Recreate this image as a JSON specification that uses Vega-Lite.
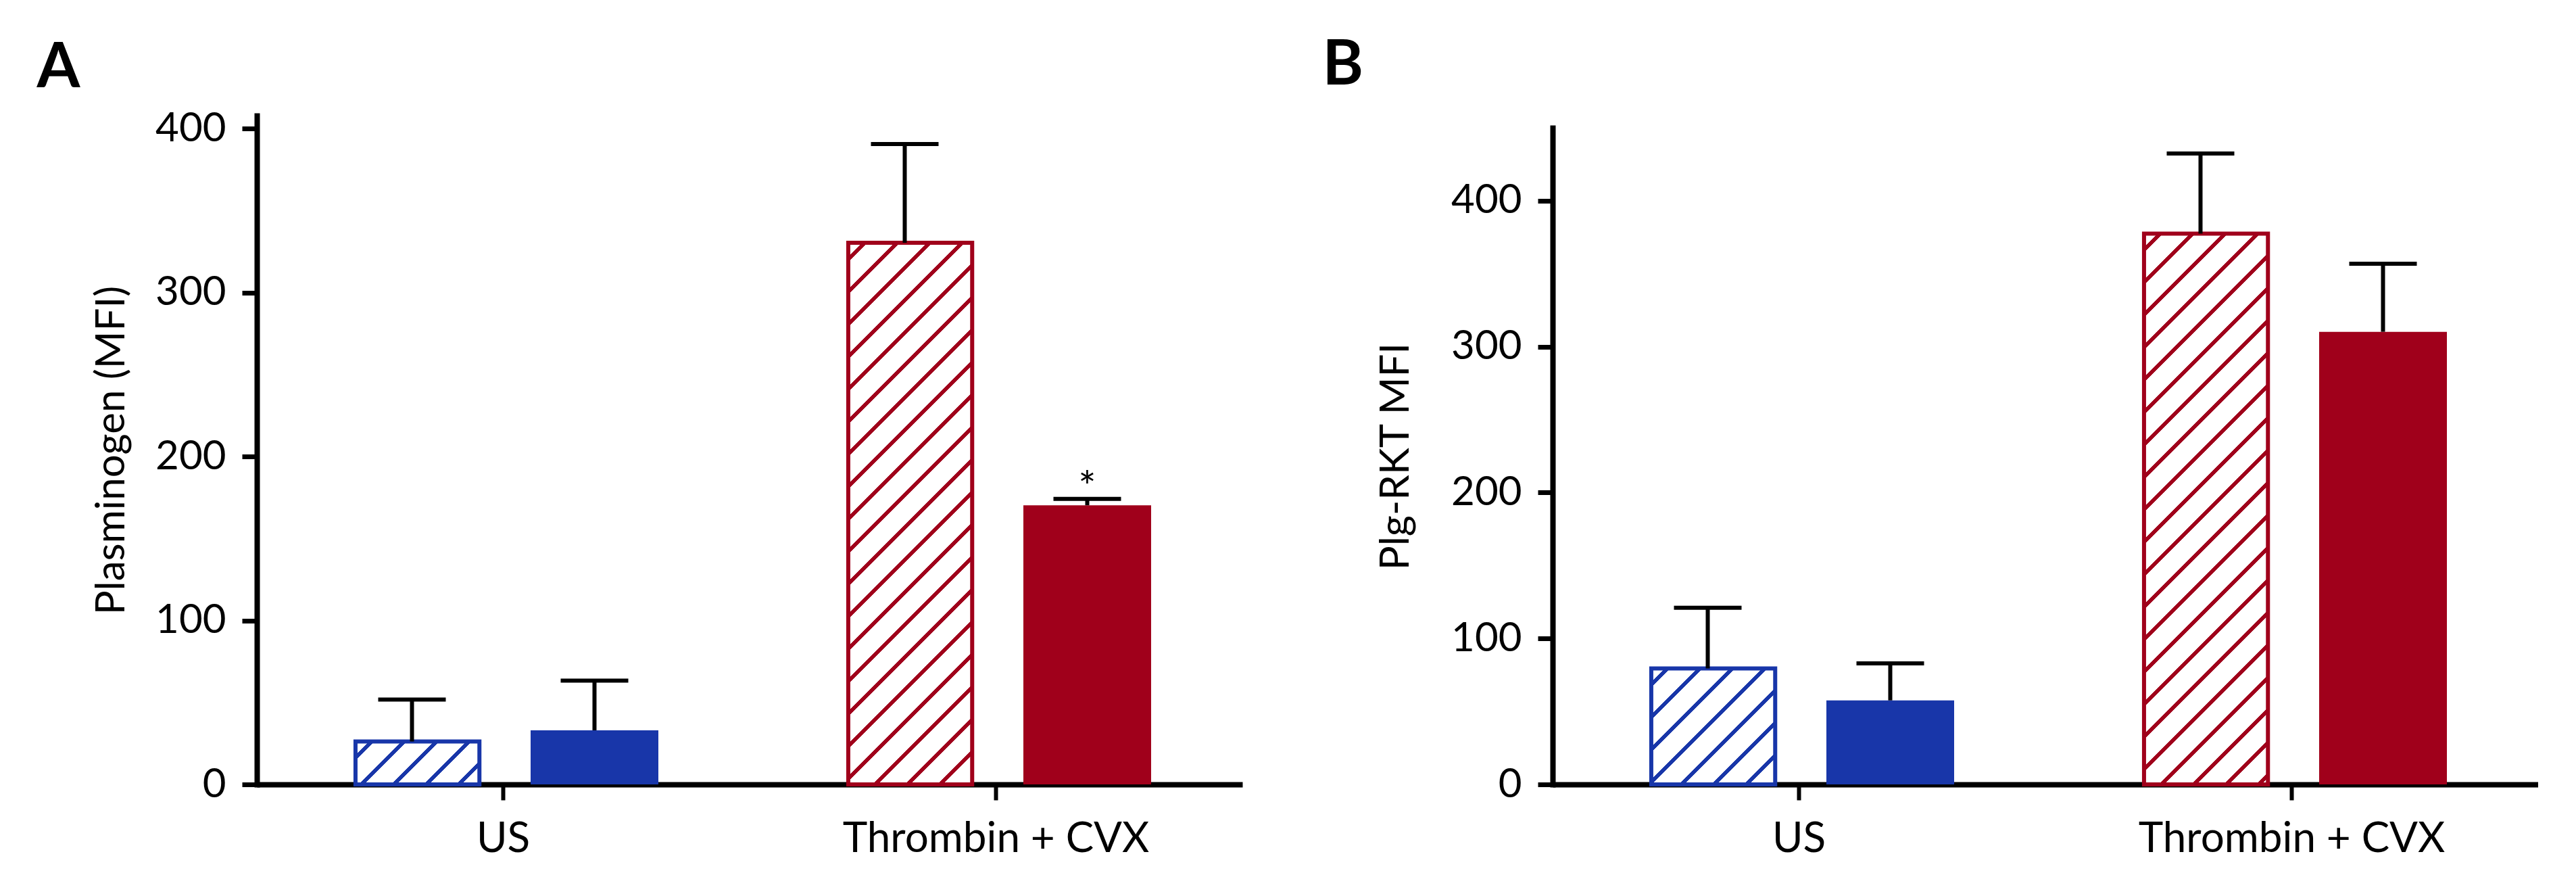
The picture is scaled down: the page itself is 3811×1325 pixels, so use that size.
{
  "$schema": "https://vega.github.io/schema/vega-lite/v6.json",
  "background": "white",
  "padding": {"left": 54, "top": 51, "right": 0, "bottom": 0},
  "spacing": 118,
  "datasets": {
    "A": [
      {"group": "US", "series": "a", "mean": 26.2, "upper": 51.8, "sig": ""},
      {"group": "US", "series": "b", "mean": 33, "upper": 63.3, "sig": ""},
      {"group": "Thrombin + CVX", "series": "a", "mean": 330.4, "upper": 390.7, "sig": ""},
      {"group": "Thrombin + CVX", "series": "b", "mean": 170.3, "upper": 174.2, "sig": "*"}
    ],
    "B": [
      {"group": "US", "series": "a", "mean": 79.5, "upper": 121.1, "sig": ""},
      {"group": "US", "series": "b", "mean": 57.6, "upper": 83, "sig": ""},
      {"group": "Thrombin + CVX", "series": "a", "mean": 377.5, "upper": 432.4, "sig": ""},
      {"group": "Thrombin + CVX", "series": "b", "mean": 310.2, "upper": 356.8, "sig": ""}
    ]
  },
  "config": {
    "view": {"stroke": null},
    "axis": {
      "domainColor": "#000000", "domainWidth": 8, "tickColor": "#000000",
      "labelColor": "#000000", "labelFont": "Lato", "labelLimit": 2000,
      "grid": false, "titleColor": "#000000",
      "titleFont": "Lato", "titleFontSize": 60, "titleFontWeight": "normal"
    },
    "axisY": {"tickSize": 22, "tickWidth": 7, "labelFontSize": 60, "labelPadding": 24, "domainCap": "square", "labelFlush": false, "labelOverlap": false},
    "axisX": {"tickSize": 23, "tickWidth": 6, "labelFontSize": 62, "labelPadding": 27, "labelAngle": 0},
    "title": {"fontSize": 92, "font": "Lato", "fontWeight": "bold", "color": "#000000", "anchor": "start", "frame": "bounds"}
  },
  "hconcat": [
    {
      "width": 1458,
      "height": 989,
      "title": {"text": "A", "dx": -81, "offset": 12},
      "data": {"name": "A"},
      "encoding": {
        "x": {"field": "group", "type": "nominal", "sort": ["US", "Thrombin + CVX"], "scale": {"paddingInner": 0, "paddingOuter": 0}, "axis": {"title": null}},
        "xOffset": {"field": "series", "type": "nominal", "sort": ["a", "b"], "scale": {"paddingInner": 0.3, "paddingOuter": 0.5}}
      },
      "layer": [
        {
          "transform": [{"filter": "datum.series === 'b'"}],
          "mark": {"type": "bar"},
          "encoding": {
            "y": {"field": "mean", "type": "quantitative", "stack": null, "scale": {"domain": [0, 408], "nice": false}, "axis": {"title": "Plasminogen (MFI)", "titlePadding": 33, "values": [0, 100, 200, 300, 400]}},
            "color": {"field": "group", "type": "nominal", "scale": {"domain": ["US", "Thrombin + CVX"], "range": ["#1836a9", "#a0001b"]}, "legend": null}
          }
        },
        {
          "transform": [{"filter": "datum.series === 'a' && datum.group === 'US'"}],
          "mark": {"type": "bar", "width": {"band": 0.97}, "stroke": "#1836a9", "strokeWidth": 6,
            "fill": {"gradient": "linear", "x1": 0, "y1": 0, "x2": 4.8702, "y2": 1.6871, "stops": [
              {"offset": 0, "color": "#ffffff"},
              {"offset": 0.02, "color": "#ffffff"}, {"offset": 0.02, "color": "#1836a9"}, {"offset": 0.028, "color": "#1836a9"}, {"offset": 0.028, "color": "#ffffff"},
              {"offset": 0.068, "color": "#ffffff"}, {"offset": 0.068, "color": "#1836a9"}, {"offset": 0.076, "color": "#1836a9"}, {"offset": 0.076, "color": "#ffffff"},
              {"offset": 0.116, "color": "#ffffff"}, {"offset": 0.116, "color": "#1836a9"}, {"offset": 0.124, "color": "#1836a9"}, {"offset": 0.124, "color": "#ffffff"},
              {"offset": 0.164, "color": "#ffffff"}, {"offset": 0.164, "color": "#1836a9"}, {"offset": 0.172, "color": "#1836a9"}, {"offset": 0.172, "color": "#ffffff"},
              {"offset": 0.212, "color": "#ffffff"}, {"offset": 0.212, "color": "#1836a9"}, {"offset": 0.22, "color": "#1836a9"}, {"offset": 0.22, "color": "#ffffff"},
              {"offset": 0.26, "color": "#ffffff"}, {"offset": 0.26, "color": "#1836a9"}, {"offset": 0.268, "color": "#1836a9"}, {"offset": 0.268, "color": "#ffffff"},
              {"offset": 1, "color": "#ffffff"}
            ]}},
          "encoding": {"y": {"field": "mean", "type": "quantitative", "stack": null, "axis": {"title": "Plasminogen (MFI)", "titlePadding": 33, "values": [0, 100, 200, 300, 400]}}}
        },
        {
          "transform": [{"filter": "datum.series === 'a' && datum.group === 'Thrombin + CVX'"}],
          "mark": {"type": "bar", "width": {"band": 0.97}, "stroke": "#a0001b", "strokeWidth": 6,
            "fill": {"gradient": "linear", "x1": 0, "y1": 0, "x2": 0.27158, "y2": 1.18643, "stops": [
              {"offset": 0, "color": "#ffffff"},
              {"offset": 0.02, "color": "#ffffff"}, {"offset": 0.02, "color": "#a0001b"}, {"offset": 0.028, "color": "#a0001b"}, {"offset": 0.028, "color": "#ffffff"},
              {"offset": 0.068, "color": "#ffffff"}, {"offset": 0.068, "color": "#a0001b"}, {"offset": 0.076, "color": "#a0001b"}, {"offset": 0.076, "color": "#ffffff"},
              {"offset": 0.116, "color": "#ffffff"}, {"offset": 0.116, "color": "#a0001b"}, {"offset": 0.124, "color": "#a0001b"}, {"offset": 0.124, "color": "#ffffff"},
              {"offset": 0.164, "color": "#ffffff"}, {"offset": 0.164, "color": "#a0001b"}, {"offset": 0.172, "color": "#a0001b"}, {"offset": 0.172, "color": "#ffffff"},
              {"offset": 0.212, "color": "#ffffff"}, {"offset": 0.212, "color": "#a0001b"}, {"offset": 0.22, "color": "#a0001b"}, {"offset": 0.22, "color": "#ffffff"},
              {"offset": 0.26, "color": "#ffffff"}, {"offset": 0.26, "color": "#a0001b"}, {"offset": 0.268, "color": "#a0001b"}, {"offset": 0.268, "color": "#ffffff"},
              {"offset": 0.308, "color": "#ffffff"}, {"offset": 0.308, "color": "#a0001b"}, {"offset": 0.316, "color": "#a0001b"}, {"offset": 0.316, "color": "#ffffff"},
              {"offset": 0.356, "color": "#ffffff"}, {"offset": 0.356, "color": "#a0001b"}, {"offset": 0.364, "color": "#a0001b"}, {"offset": 0.364, "color": "#ffffff"},
              {"offset": 0.404, "color": "#ffffff"}, {"offset": 0.404, "color": "#a0001b"}, {"offset": 0.412, "color": "#a0001b"}, {"offset": 0.412, "color": "#ffffff"},
              {"offset": 0.452, "color": "#ffffff"}, {"offset": 0.452, "color": "#a0001b"}, {"offset": 0.46, "color": "#a0001b"}, {"offset": 0.46, "color": "#ffffff"},
              {"offset": 0.5, "color": "#ffffff"}, {"offset": 0.5, "color": "#a0001b"}, {"offset": 0.508, "color": "#a0001b"}, {"offset": 0.508, "color": "#ffffff"},
              {"offset": 0.548, "color": "#ffffff"}, {"offset": 0.548, "color": "#a0001b"}, {"offset": 0.556, "color": "#a0001b"}, {"offset": 0.556, "color": "#ffffff"},
              {"offset": 0.596, "color": "#ffffff"}, {"offset": 0.596, "color": "#a0001b"}, {"offset": 0.604, "color": "#a0001b"}, {"offset": 0.604, "color": "#ffffff"},
              {"offset": 0.644, "color": "#ffffff"}, {"offset": 0.644, "color": "#a0001b"}, {"offset": 0.652, "color": "#a0001b"}, {"offset": 0.652, "color": "#ffffff"},
              {"offset": 0.692, "color": "#ffffff"}, {"offset": 0.692, "color": "#a0001b"}, {"offset": 0.7, "color": "#a0001b"}, {"offset": 0.7, "color": "#ffffff"},
              {"offset": 0.74, "color": "#ffffff"}, {"offset": 0.74, "color": "#a0001b"}, {"offset": 0.748, "color": "#a0001b"}, {"offset": 0.748, "color": "#ffffff"},
              {"offset": 0.788, "color": "#ffffff"}, {"offset": 0.788, "color": "#a0001b"}, {"offset": 0.796, "color": "#a0001b"}, {"offset": 0.796, "color": "#ffffff"},
              {"offset": 0.836, "color": "#ffffff"}, {"offset": 0.836, "color": "#a0001b"}, {"offset": 0.844, "color": "#a0001b"}, {"offset": 0.844, "color": "#ffffff"},
              {"offset": 0.884, "color": "#ffffff"}, {"offset": 0.884, "color": "#a0001b"}, {"offset": 0.892, "color": "#a0001b"}, {"offset": 0.892, "color": "#ffffff"},
              {"offset": 0.932, "color": "#ffffff"}, {"offset": 0.932, "color": "#a0001b"}, {"offset": 0.94, "color": "#a0001b"}, {"offset": 0.94, "color": "#ffffff"},
              {"offset": 0.98, "color": "#ffffff"}, {"offset": 0.98, "color": "#a0001b"}, {"offset": 0.988, "color": "#a0001b"}, {"offset": 0.988, "color": "#ffffff"},
              {"offset": 1, "color": "#ffffff"}
            ]}},
          "encoding": {"y": {"field": "mean", "type": "quantitative", "stack": null, "axis": {"title": "Plasminogen (MFI)", "titlePadding": 33, "values": [0, 100, 200, 300, 400]}}}
        },
        {
          "mark": {"type": "rule", "strokeWidth": 6, "color": "#000000"},
          "encoding": {"y": {"field": "mean", "type": "quantitative", "axis": {"title": "Plasminogen (MFI)", "titlePadding": 33, "values": [0, 100, 200, 300, 400]}}, "y2": {"field": "upper"}}
        },
        {
          "mark": {"type": "tick", "orient": "horizontal", "size": 100, "thickness": 6, "color": "#000000", "opacity": 1},
          "encoding": {"y": {"field": "upper", "type": "quantitative", "axis": {"title": "Plasminogen (MFI)", "titlePadding": 33, "values": [0, 100, 200, 300, 400]}}}
        },
        {
          "transform": [{"filter": "datum.sig !== ''"}],
          "mark": {"type": "text", "font": "Lato", "fontSize": 62, "color": "#000000", "baseline": "alphabetic", "dy": 4},
          "encoding": {"y": {"field": "upper", "type": "quantitative", "axis": {"title": "Plasminogen (MFI)", "titlePadding": 33, "values": [0, 100, 200, 300, 400]}}, "text": {"field": "sig"}}
        }
      ]
    },
    {
      "width": 1458,
      "height": 989,
      "title": {"text": "B", "dx": -79, "offset": 27},
      "data": {"name": "B"},
      "encoding": {
        "x": {"field": "group", "type": "nominal", "sort": ["US", "Thrombin + CVX"], "scale": {"paddingInner": 0, "paddingOuter": 0}, "axis": {"title": null}},
        "xOffset": {"field": "series", "type": "nominal", "sort": ["a", "b"], "scale": {"paddingInner": 0.3, "paddingOuter": 0.5}}
      },
      "layer": [
        {
          "transform": [{"filter": "datum.series === 'b'"}],
          "mark": {"type": "bar"},
          "encoding": {
            "y": {"field": "mean", "type": "quantitative", "stack": null, "scale": {"domain": [0, 450], "range": [989, 18], "nice": false}, "axis": {"title": "Plg-RKT MFI", "titlePadding": 50, "values": [0, 100, 200, 300, 400]}},
            "color": {"field": "group", "type": "nominal", "scale": {"domain": ["US", "Thrombin + CVX"], "range": ["#1836a9", "#a0001b"]}, "legend": null}
          }
        },
        {
          "transform": [{"filter": "datum.series === 'a' && datum.group === 'US'"}],
          "mark": {"type": "bar", "width": {"band": 0.97}, "stroke": "#1836a9", "strokeWidth": 6,
            "fill": {"gradient": "linear", "x1": 0, "y1": 0, "x2": 2.9083, "y2": 2.7213, "stops": [
              {"offset": 0, "color": "#ffffff"},
              {"offset": 0.02, "color": "#ffffff"}, {"offset": 0.02, "color": "#1836a9"}, {"offset": 0.028, "color": "#1836a9"}, {"offset": 0.028, "color": "#ffffff"},
              {"offset": 0.068, "color": "#ffffff"}, {"offset": 0.068, "color": "#1836a9"}, {"offset": 0.076, "color": "#1836a9"}, {"offset": 0.076, "color": "#ffffff"},
              {"offset": 0.116, "color": "#ffffff"}, {"offset": 0.116, "color": "#1836a9"}, {"offset": 0.124, "color": "#1836a9"}, {"offset": 0.124, "color": "#ffffff"},
              {"offset": 0.164, "color": "#ffffff"}, {"offset": 0.164, "color": "#1836a9"}, {"offset": 0.172, "color": "#1836a9"}, {"offset": 0.172, "color": "#ffffff"},
              {"offset": 0.212, "color": "#ffffff"}, {"offset": 0.212, "color": "#1836a9"}, {"offset": 0.22, "color": "#1836a9"}, {"offset": 0.22, "color": "#ffffff"},
              {"offset": 0.26, "color": "#ffffff"}, {"offset": 0.26, "color": "#1836a9"}, {"offset": 0.268, "color": "#1836a9"}, {"offset": 0.268, "color": "#ffffff"},
              {"offset": 0.308, "color": "#ffffff"}, {"offset": 0.308, "color": "#1836a9"}, {"offset": 0.316, "color": "#1836a9"}, {"offset": 0.316, "color": "#ffffff"},
              {"offset": 0.356, "color": "#ffffff"}, {"offset": 0.356, "color": "#1836a9"}, {"offset": 0.364, "color": "#1836a9"}, {"offset": 0.364, "color": "#ffffff"},
              {"offset": 1, "color": "#ffffff"}
            ]}},
          "encoding": {"y": {"field": "mean", "type": "quantitative", "stack": null, "axis": {"title": "Plg-RKT MFI", "titlePadding": 50, "values": [0, 100, 200, 300, 400]}}}
        },
        {
          "transform": [{"filter": "datum.series === 'a' && datum.group === 'Thrombin + CVX'"}],
          "mark": {"type": "bar", "width": {"band": 0.97}, "stroke": "#a0001b", "strokeWidth": 6,
            "fill": {"gradient": "linear", "x1": 0, "y1": 0, "x2": 0.26298, "y2": 1.16847, "stops": [
              {"offset": 0, "color": "#ffffff"},
              {"offset": 0.02, "color": "#ffffff"}, {"offset": 0.02, "color": "#a0001b"}, {"offset": 0.028, "color": "#a0001b"}, {"offset": 0.028, "color": "#ffffff"},
              {"offset": 0.068, "color": "#ffffff"}, {"offset": 0.068, "color": "#a0001b"}, {"offset": 0.076, "color": "#a0001b"}, {"offset": 0.076, "color": "#ffffff"},
              {"offset": 0.116, "color": "#ffffff"}, {"offset": 0.116, "color": "#a0001b"}, {"offset": 0.124, "color": "#a0001b"}, {"offset": 0.124, "color": "#ffffff"},
              {"offset": 0.164, "color": "#ffffff"}, {"offset": 0.164, "color": "#a0001b"}, {"offset": 0.172, "color": "#a0001b"}, {"offset": 0.172, "color": "#ffffff"},
              {"offset": 0.212, "color": "#ffffff"}, {"offset": 0.212, "color": "#a0001b"}, {"offset": 0.22, "color": "#a0001b"}, {"offset": 0.22, "color": "#ffffff"},
              {"offset": 0.26, "color": "#ffffff"}, {"offset": 0.26, "color": "#a0001b"}, {"offset": 0.268, "color": "#a0001b"}, {"offset": 0.268, "color": "#ffffff"},
              {"offset": 0.308, "color": "#ffffff"}, {"offset": 0.308, "color": "#a0001b"}, {"offset": 0.316, "color": "#a0001b"}, {"offset": 0.316, "color": "#ffffff"},
              {"offset": 0.356, "color": "#ffffff"}, {"offset": 0.356, "color": "#a0001b"}, {"offset": 0.364, "color": "#a0001b"}, {"offset": 0.364, "color": "#ffffff"},
              {"offset": 0.404, "color": "#ffffff"}, {"offset": 0.404, "color": "#a0001b"}, {"offset": 0.412, "color": "#a0001b"}, {"offset": 0.412, "color": "#ffffff"},
              {"offset": 0.452, "color": "#ffffff"}, {"offset": 0.452, "color": "#a0001b"}, {"offset": 0.46, "color": "#a0001b"}, {"offset": 0.46, "color": "#ffffff"},
              {"offset": 0.5, "color": "#ffffff"}, {"offset": 0.5, "color": "#a0001b"}, {"offset": 0.508, "color": "#a0001b"}, {"offset": 0.508, "color": "#ffffff"},
              {"offset": 0.548, "color": "#ffffff"}, {"offset": 0.548, "color": "#a0001b"}, {"offset": 0.556, "color": "#a0001b"}, {"offset": 0.556, "color": "#ffffff"},
              {"offset": 0.596, "color": "#ffffff"}, {"offset": 0.596, "color": "#a0001b"}, {"offset": 0.604, "color": "#a0001b"}, {"offset": 0.604, "color": "#ffffff"},
              {"offset": 0.644, "color": "#ffffff"}, {"offset": 0.644, "color": "#a0001b"}, {"offset": 0.652, "color": "#a0001b"}, {"offset": 0.652, "color": "#ffffff"},
              {"offset": 0.692, "color": "#ffffff"}, {"offset": 0.692, "color": "#a0001b"}, {"offset": 0.7, "color": "#a0001b"}, {"offset": 0.7, "color": "#ffffff"},
              {"offset": 0.74, "color": "#ffffff"}, {"offset": 0.74, "color": "#a0001b"}, {"offset": 0.748, "color": "#a0001b"}, {"offset": 0.748, "color": "#ffffff"},
              {"offset": 0.788, "color": "#ffffff"}, {"offset": 0.788, "color": "#a0001b"}, {"offset": 0.796, "color": "#a0001b"}, {"offset": 0.796, "color": "#ffffff"},
              {"offset": 0.836, "color": "#ffffff"}, {"offset": 0.836, "color": "#a0001b"}, {"offset": 0.844, "color": "#a0001b"}, {"offset": 0.844, "color": "#ffffff"},
              {"offset": 0.884, "color": "#ffffff"}, {"offset": 0.884, "color": "#a0001b"}, {"offset": 0.892, "color": "#a0001b"}, {"offset": 0.892, "color": "#ffffff"},
              {"offset": 0.932, "color": "#ffffff"}, {"offset": 0.932, "color": "#a0001b"}, {"offset": 0.94, "color": "#a0001b"}, {"offset": 0.94, "color": "#ffffff"},
              {"offset": 0.98, "color": "#ffffff"}, {"offset": 0.98, "color": "#a0001b"}, {"offset": 0.988, "color": "#a0001b"}, {"offset": 0.988, "color": "#ffffff"},
              {"offset": 1, "color": "#ffffff"}
            ]}},
          "encoding": {"y": {"field": "mean", "type": "quantitative", "stack": null, "axis": {"title": "Plg-RKT MFI", "titlePadding": 50, "values": [0, 100, 200, 300, 400]}}}
        },
        {
          "mark": {"type": "rule", "strokeWidth": 6, "color": "#000000"},
          "encoding": {"y": {"field": "mean", "type": "quantitative", "axis": {"title": "Plg-RKT MFI", "titlePadding": 50, "values": [0, 100, 200, 300, 400]}}, "y2": {"field": "upper"}}
        },
        {
          "mark": {"type": "tick", "orient": "horizontal", "size": 100, "thickness": 6, "color": "#000000", "opacity": 1},
          "encoding": {"y": {"field": "upper", "type": "quantitative", "axis": {"title": "Plg-RKT MFI", "titlePadding": 50, "values": [0, 100, 200, 300, 400]}}}
        }
      ]
    }
  ]
}
